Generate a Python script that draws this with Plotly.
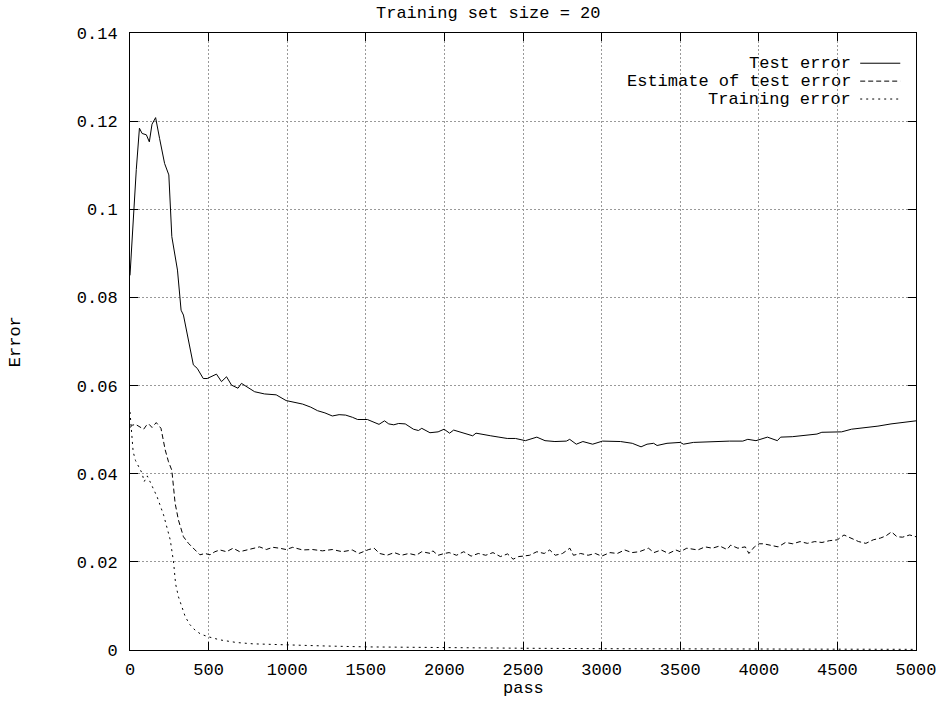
import plotly.graph_objects as go

# ---- data ----
test_x = [0, 25, 40, 60, 77, 104, 123, 140, 163, 188, 220, 247, 266, 302, 325, 340, 403, 428, 466, 491,
          550, 582, 614, 646, 687, 709, 793, 856, 930, 993, 1040, 1098, 1150, 1193, 1240, 1287, 1330, 1372,
          1415, 1448, 1510, 1584, 1619, 1646, 1678, 1709, 1751, 1803, 1835, 1856, 1908, 1960, 1998, 2033,
          2059, 2117, 2180, 2201, 2243, 2295, 2347, 2400, 2452, 2515, 2588, 2640, 2703, 2776, 2797, 2839,
          2881, 2943, 3006, 3059, 3121, 3195, 3251, 3289, 3331, 3353, 3416, 3500, 3521, 3584, 3657, 3731,
          3814, 3898, 3930, 3982, 4055, 4118, 4139, 4213, 4296, 4370, 4401, 4464, 4527, 4590, 4674, 4758,
          4841, 4967, 5000]
test_y = [0.0850, 0.1020, 0.1090, 0.1184, 0.1172, 0.1169, 0.1153, 0.1193, 0.1208, 0.1161, 0.1104, 0.1078,
          0.0938, 0.0862, 0.0771, 0.0760, 0.0647, 0.0639, 0.0616, 0.0616, 0.0626, 0.0609, 0.0620, 0.0601,
          0.0594, 0.0605, 0.0586, 0.0581, 0.0579, 0.0566, 0.0563, 0.0558, 0.0551, 0.0543, 0.0538, 0.0531,
          0.0534, 0.0533, 0.0528, 0.0523, 0.0523, 0.0512, 0.0520, 0.0513, 0.0511, 0.0514, 0.0513, 0.0501,
          0.0498, 0.0503, 0.0493, 0.0495, 0.0501, 0.0492, 0.0499, 0.0492, 0.0486, 0.0492, 0.0490, 0.0486,
          0.0483, 0.0480, 0.0480, 0.0475, 0.0483, 0.0475, 0.0473, 0.0474, 0.0478, 0.0467, 0.0473, 0.0467,
          0.0474, 0.0473, 0.0473, 0.0469, 0.0461, 0.0467, 0.0469, 0.0464, 0.0469, 0.0471, 0.0467, 0.0471,
          0.0472, 0.0474, 0.0474, 0.0474, 0.0478, 0.0475, 0.0483, 0.0475, 0.0483, 0.0484, 0.0488, 0.0490,
          0.0494, 0.0495, 0.0495, 0.0501, 0.0504, 0.0508, 0.0513, 0.0518, 0.0520]

est_x = [0, 15, 35, 60, 87, 105, 119, 140, 167, 197, 224, 245, 266, 287, 308, 340, 372, 414, 445, 477,
         509, 540, 572, 614, 656, 698, 740, 782, 824, 867, 909, 951, 993, 1035, 1098, 1161, 1224, 1287,
         1351, 1414, 1456, 1519, 1553, 1588, 1635, 1681, 1728, 1774, 1821, 1856, 1914, 1926, 1960, 2000,
         2030, 2077, 2123, 2170, 2216, 2263, 2309, 2356, 2402, 2437, 2472, 2500, 2542, 2588, 2635, 2670,
         2705, 2751, 2798, 2821, 2867, 2914, 2960, 3000, 3053, 3100, 3147, 3193, 3240, 3298, 3333, 3379,
         3426, 3472, 3500, 3542, 3612, 3658, 3705, 3751, 3798, 3821, 3867, 3914, 3937, 3972, 4002, 4030,
         4077, 4123, 4170, 4216, 4263, 4309, 4356, 4402, 4449, 4500, 4542, 4588, 4635, 4681, 4728, 4774,
         4809, 4844, 4879, 4914, 4960, 5000]
est_y = [0.0505, 0.0510, 0.0512, 0.0506, 0.0501, 0.0510, 0.0513, 0.0505, 0.0516, 0.0503, 0.0454, 0.0427,
         0.0408, 0.0333, 0.0295, 0.0257, 0.0242, 0.0227, 0.0216, 0.0219, 0.0216, 0.0223, 0.0227, 0.0223,
         0.0231, 0.0223, 0.0227, 0.0231, 0.0234, 0.0228, 0.0233, 0.0231, 0.0228, 0.0233, 0.0227, 0.0228,
         0.0225, 0.0228, 0.0223, 0.0227, 0.0219, 0.0228, 0.0231, 0.0219, 0.0215, 0.0221, 0.0215, 0.0219,
         0.0215, 0.0223, 0.0219, 0.0225, 0.0215, 0.0219, 0.0221, 0.0215, 0.0223, 0.0213, 0.0219, 0.0215,
         0.0221, 0.0212, 0.0218, 0.0206, 0.0212, 0.0213, 0.0215, 0.0223, 0.0219, 0.0227, 0.0215, 0.0219,
         0.0231, 0.0215, 0.0219, 0.0215, 0.0219, 0.0213, 0.0221, 0.0219, 0.0227, 0.0221, 0.0223, 0.0231,
         0.0221, 0.0227, 0.0219, 0.0227, 0.0223, 0.0231, 0.0227, 0.0234, 0.0231, 0.0236, 0.0228, 0.0238,
         0.0231, 0.0234, 0.0219, 0.0234, 0.0241, 0.0241, 0.0238, 0.0234, 0.0244, 0.0241, 0.0246, 0.0242,
         0.0246, 0.0244, 0.0248, 0.0250, 0.0261, 0.0253, 0.0246, 0.0242, 0.0250, 0.0254, 0.0259, 0.0268,
         0.0257, 0.0256, 0.0261, 0.0257]

train_x = [0, 10, 20, 35, 56, 77, 90, 110, 130, 172, 214, 256, 277, 290, 308, 330, 351, 380, 414, 450,
           498, 572, 677, 782, 993, 1250, 1519, 2000, 2500, 3000, 3500, 4000, 4500, 5000]
train_y = [0.0540, 0.0490, 0.0450, 0.0430, 0.0415, 0.0401, 0.0382, 0.0395, 0.0380, 0.0348, 0.0306, 0.0250,
           0.0200, 0.0150, 0.0121, 0.0095, 0.0076, 0.0058, 0.0045, 0.0036, 0.0030, 0.0023, 0.0017, 0.0014,
           0.0011, 0.0009, 0.0007, 0.0005, 0.0004, 0.0003, 0.0003, 0.0002, 0.0002, 0.00015]

x_ticks = [0, 500, 1000, 1500, 2000, 2500, 3000, 3500, 4000, 4500, 5000]
y_ticks = [0, 0.02, 0.04, 0.06, 0.08, 0.1, 0.12, 0.14]
y_tick_text = ["0", "0.02", "0.04", "0.06", "0.08", "0.1", "0.12", "0.14"]

names = ["Test error", "Estimate of test error", "Training error"]
dashes = ["solid", "5px,3px", "2px,4px"]

FONT = "Liberation Mono, Courier New, monospace"

fig = go.Figure()
for xs, ys, dsh, nm in [(test_x, test_y, dashes[0], names[0]),
                        (est_x, est_y, dashes[1], names[1]),
                        (train_x, train_y, dashes[2], names[2])]:
    fig.add_trace(go.Scatter(x=xs, y=ys, mode="lines", name=nm,
                             line=dict(color="black", width=1, dash=dsh)))

axis_common = dict(showline=True, linecolor="black", linewidth=1, mirror="ticks",
                   ticks="inside", ticklen=8, tickcolor="black", tickwidth=1,
                   showgrid=True, gridcolor="#999999", gridwidth=1, griddash="2px,2px",
                   zeroline=False, tickfont=dict(family=FONT, size=17, color="black"))

fig.update_xaxes(range=[0, 5000], tickvals=x_ticks, ticklabelstandoff=4, **axis_common)
fig.update_yaxes(range=[0, 0.14], tickvals=y_ticks, ticktext=y_tick_text, ticklabelstandoff=8, **axis_common)

# gnuplot-style legend: right-aligned text followed by a line sample
legend_y = [0.951, 0.922, 0.893]
for nm, dsh, ly in zip(names, dashes, legend_y):
    fig.add_annotation(xref="paper", yref="paper", x=0.92, y=ly, text=nm, showarrow=False,
                       xanchor="right", yanchor="middle", font=dict(family=FONT, size=17, color="black"))
    fig.add_shape(type="line", xref="paper", yref="paper", x0=0.929, x1=0.98, y0=ly, y1=ly,
                  line=dict(color="black", width=1, dash=dsh))

fig.add_annotation(xref="paper", yref="paper", x=0.4555, y=1.0, yshift=20, text="Training set size = 20",
                   showarrow=False, xanchor="center", yanchor="middle",
                   font=dict(family=FONT, size=17, color="black"))
fig.add_annotation(xref="paper", yref="paper", x=-0.1454, y=0.5, text="Error", textangle=-90,
                   showarrow=False, xanchor="center", yanchor="middle",
                   font=dict(family=FONT, size=17, color="black"))
fig.add_annotation(xref="paper", yref="paper", x=0.5, y=-0.063, text="pass",
                   showarrow=False, xanchor="center", yanchor="middle",
                   font=dict(family=FONT, size=17, color="black"))

fig.update_layout(width=948, height=705, showlegend=False,
                  margin=dict(l=130, r=27, t=33, b=55),
                  paper_bgcolor="white", plot_bgcolor="white")

fig.write_html("out.html")
